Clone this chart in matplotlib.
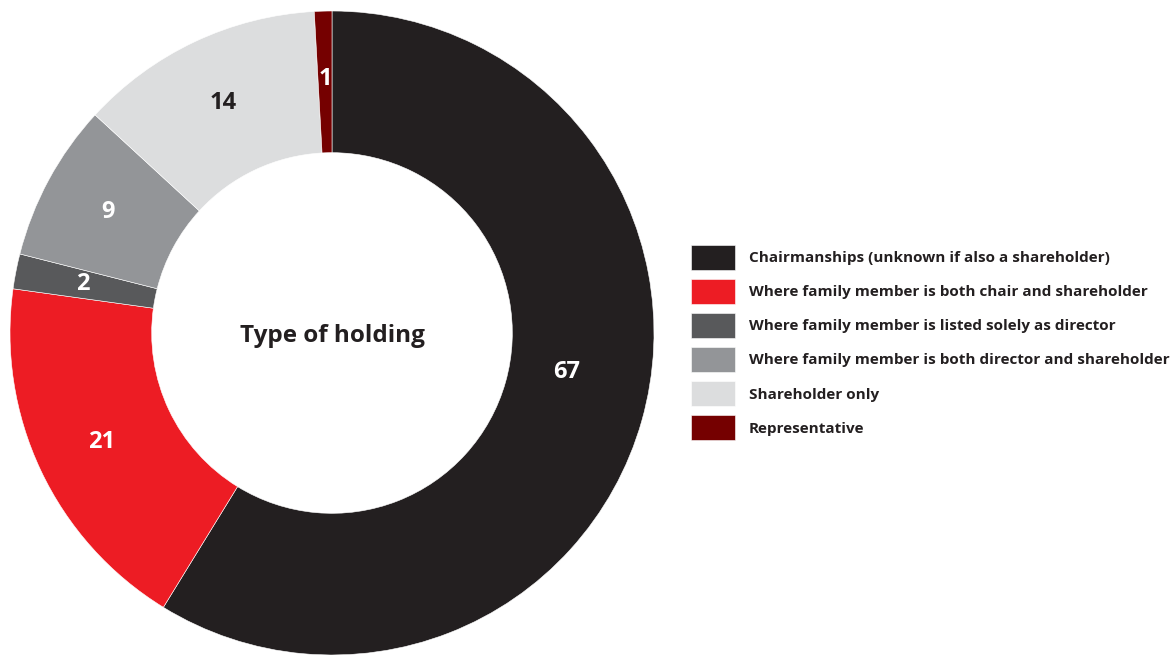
import matplotlib.pyplot as plt

plt.rcParams['font.family'] = ['Open Sans', 'DejaVu Sans']

categories = [
    'Chairmanships (unknown if also a shareholder)',
    'Where family member is both chair and shareholder',
    'Where family member is listed solely as director',
    'Where family member is both director and shareholder',
    'Shareholder only',
    'Representative',
]
values = [67, 21, 2, 9, 14, 1]
colors = ['#231f20', '#ed1c24', '#58595b', '#939598', '#dcddde', '#750000']
label_colors = ['white', 'white', 'white', 'white', '#231f20', 'white']

W, H = 1173, 655
fig = plt.figure(figsize=(W / 100, H / 100), dpi=100)
ax = fig.add_axes([10 / W, 0, 644 / W, 644 / H])

wedges, texts = ax.pie(values, labels=[str(v) for v in values],
                       colors=colors, startangle=90, counterclock=False,
                       radius=1, labeldistance=0.79,
                       wedgeprops=dict(width=0.44, edgecolor='white',
                                       linewidth=0.4),
                       textprops=dict(fontsize=17, fontweight='bold'))
for t, c in zip(texts, label_colors):
    t.set_color(c)
    t.set_ha('center')
    t.set_va('center')
# the big slice's label sits a bit higher than the slice middle
texts[0].set_position((0.73, -0.12))

ax.text(0, -0.01, 'Type of holding', ha='center', va='center',
        fontsize=17.5, fontweight='bold', color='#231f20')
ax.set_xlim(-1, 1)
ax.set_ylim(-1, 1)
ax.set_aspect('equal')
ax.axis('off')

fig.legend(wedges, categories, loc='upper left',
           bbox_to_anchor=(686 / W, 1 - 240 / H), frameon=False,
           prop=dict(weight='bold', size=11),
           handlelength=2.9, handleheight=2.14, labelspacing=0.6,
           handletextpad=0.9, borderaxespad=0, borderpad=0.3,
           labelcolor='#231f20')

fig.savefig('out.png', dpi=100)
